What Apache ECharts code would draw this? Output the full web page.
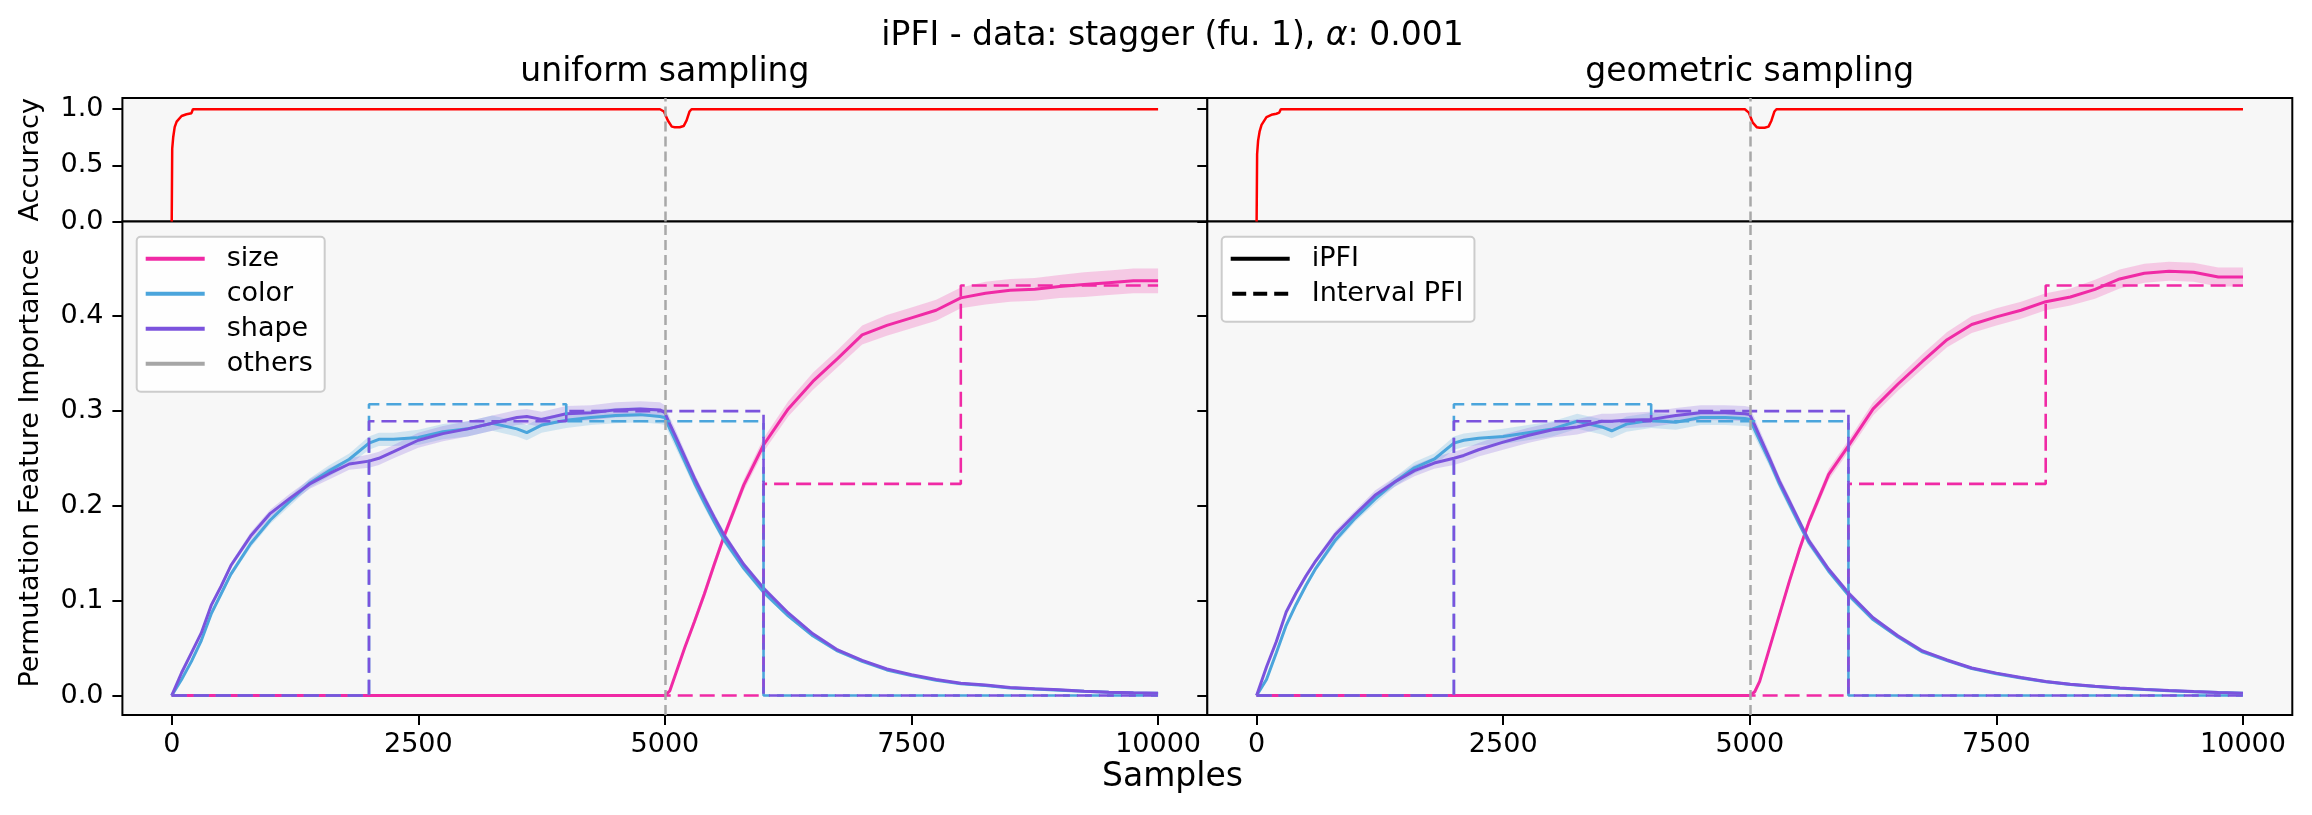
<!DOCTYPE html>
<html>
<head>
<meta charset="utf-8">
<script src="https://cdn.jsdelivr.net/npm/echarts@6/dist/echarts.min.js"></script>
<style>
  html, body { margin: 0; padding: 0; background: #fff; }
  #chart { width: 2312px; height: 815px; }
</style>
</head>
<body>
<div id="chart"></div>
<script>
var FONT = 'DejaVu Sans';

// x positions of the iPFI curves (samples)
var pfiX = [0, 100, 200, 300, 400, 500, 600,
  800, 1000, 1200, 1400, 1600, 1800, 2000,
  2100, 2250, 2500, 2750, 3000, 3250, 3500, 3600, 3750, 4000,
  4250, 4500, 4750, 4950, 5000,
  5050, 5100, 5200, 5300, 5400, 5500, 5600, 5800, 6000,
  6250, 6500, 6750, 7000, 7250, 7500, 7750, 8000,
  8250, 8500, 8750, 9000, 9250, 9500, 9750, 10000];

// uniform sampling
var uniSize = [0, 0, 0, 0, 0, 0, 0,
  0, 0, 0, 0, 0, 0, 0,
  0, 0, 0, 0, 0, 0, 0, 0, 0, 0,
  0, 0, 0, 0, 0,
  0.005, 0.02, 0.05, 0.078, 0.107, 0.138, 0.168, 0.222, 0.264,
  0.302, 0.331, 0.355, 0.380, 0.390, 0.398, 0.406, 0.419,
  0.424, 0.427, 0.428, 0.431, 0.433, 0.435, 0.437, 0.437];
var uniColor = [0, 0.017, 0.036, 0.058, 0.086, 0.107, 0.128,
  0.160, 0.185, 0.205, 0.224, 0.237, 0.249, 0.266,
  0.270, 0.270, 0.272, 0.278, 0.281, 0.287, 0.281, 0.277, 0.285, 0.290,
  0.293, 0.295, 0.296, 0.294, 0.293,
  0.281, 0.270, 0.247, 0.224, 0.203, 0.183, 0.164, 0.134, 0.109,
  0.084, 0.063, 0.047, 0.036, 0.027, 0.021, 0.016, 0.0125,
  0.0105, 0.008, 0.0068, 0.0056, 0.0044, 0.0035, 0.0028, 0.0023];
var uniShape = [0, 0.024, 0.045, 0.066, 0.095, 0.115, 0.137,
  0.168, 0.192, 0.208, 0.223, 0.234, 0.244, 0.247,
  0.250, 0.257, 0.269, 0.276, 0.281, 0.287, 0.293, 0.294, 0.291, 0.297,
  0.298, 0.301, 0.302, 0.301, 0.298,
  0.286, 0.275, 0.252, 0.229, 0.208, 0.188, 0.169, 0.138, 0.113,
  0.087, 0.065, 0.048, 0.037, 0.028, 0.022, 0.017, 0.013,
  0.011, 0.0085, 0.0072, 0.006, 0.0046, 0.0036, 0.003, 0.0025];
var uniSizeStd = [0, 0, 0, 0, 0, 0, 0,
  0, 0, 0, 0, 0, 0, 0,
  0, 0, 0, 0, 0, 0, 0, 0, 0, 0,
  0, 0, 0, 0, 0,
  0.001, 0.002, 0.003, 0.004, 0.005, 0.005, 0.005, 0.006, 0.007,
  0.008, 0.009, 0.009, 0.010, 0.011, 0.011, 0.011, 0.011,
  0.012, 0.012, 0.012, 0.012, 0.013, 0.013, 0.013, 0.013];
var uniCPStd = [0, 0.001, 0.002, 0.002, 0.003, 0.003, 0.003,
  0.004, 0.004, 0.005, 0.005, 0.006, 0.006, 0.007,
  0.007, 0.007, 0.008, 0.008, 0.008, 0.008, 0.008, 0.008, 0.008, 0.008,
  0.008, 0.008, 0.008, 0.008, 0.008,
  0.007, 0.007, 0.006, 0.005, 0.005, 0.004, 0.004, 0.003, 0.003,
  0.002, 0.002, 0.002, 0.001, 0.001, 0.001, 0.001, 0.001,
  0.001, 0.001, 0.001, 0.001, 0.001, 0.001, 0.001, 0.001];

// geometric sampling
var geoSize = [0, 0, 0, 0, 0, 0, 0,
  0, 0, 0, 0, 0, 0, 0,
  0, 0, 0, 0, 0, 0, 0, 0, 0, 0,
  0, 0, 0, 0, 0,
  0.004, 0.015, 0.05, 0.085, 0.12, 0.153, 0.183, 0.233, 0.263,
  0.302, 0.328, 0.352, 0.375, 0.391, 0.399, 0.406, 0.415,
  0.420, 0.428, 0.439, 0.445, 0.447, 0.446, 0.441, 0.441];
var geoColor = [0, 0.017, 0.045, 0.074, 0.096, 0.116, 0.134,
  0.164, 0.187, 0.207, 0.225, 0.240, 0.249, 0.266,
  0.269, 0.271, 0.273, 0.277, 0.281, 0.289, 0.283, 0.279, 0.286, 0.290,
  0.288, 0.293, 0.293, 0.292, 0.291,
  0.280, 0.269, 0.247, 0.223, 0.202, 0.181, 0.161, 0.131, 0.106,
  0.080, 0.062, 0.046, 0.0368, 0.0285, 0.023, 0.0185, 0.0145,
  0.0117, 0.0095, 0.0078, 0.0063, 0.0051, 0.0041, 0.0032, 0.0024];
var geoShape = [0, 0.030, 0.057, 0.088, 0.108, 0.126, 0.142,
  0.170, 0.191, 0.211, 0.225, 0.237, 0.245, 0.250,
  0.253, 0.259, 0.267, 0.274, 0.280, 0.283, 0.289, 0.289, 0.290, 0.291,
  0.295, 0.298, 0.298, 0.297, 0.296,
  0.285, 0.273, 0.250, 0.226, 0.205, 0.184, 0.163, 0.133, 0.108,
  0.082, 0.063, 0.047, 0.0375, 0.029, 0.0236, 0.019, 0.0148,
  0.012, 0.0098, 0.008, 0.0065, 0.0053, 0.0042, 0.0033, 0.0025];
var geoSizeStd = [0, 0, 0, 0, 0, 0, 0,
  0, 0, 0, 0, 0, 0, 0,
  0, 0, 0, 0, 0, 0, 0, 0, 0, 0,
  0, 0, 0, 0, 0,
  0.001, 0.002, 0.003, 0.004, 0.004, 0.005, 0.005, 0.006, 0.006,
  0.007, 0.007, 0.008, 0.008, 0.009, 0.009, 0.009, 0.009,
  0.009, 0.010, 0.010, 0.010, 0.010, 0.010, 0.010, 0.010];
var geoCPStd = uniCPStd;

// interval PFI (value holds until the next boundary)
var intervalX = [0, 2000, 4000, 6000, 8000, 10000];
var sizeInterval = [0, 0, 0, 0.223, 0.432, 0.432];
var colorInterval = [0, 0.307, 0.289, 0, 0, 0];
var shapeInterval = [0, 0.289, 0.2997, 0, 0, 0];

// accuracy
var accX = [0, 5, 15, 30, 50, 100, 150, 200, 215, 230, 245,
  4950, 4990, 5030, 5070, 5100, 5150, 5190, 5220, 5250, 5270, 10000];
var uniAcc = [0, 0.65, 0.75, 0.84, 0.89, 0.94, 0.955, 0.965, 1.0, 1.0, 1.0,
  1.0, 0.98, 0.90, 0.845, 0.84, 0.84, 0.85, 0.90, 0.98, 1.0, 1.0];
var geoAcc = [0, 0.6, 0.72, 0.80, 0.86, 0.93, 0.95, 0.96, 0.965, 0.97, 1.0,
  1.0, 0.97, 0.88, 0.84, 0.835, 0.835, 0.845, 0.90, 0.98, 1.0, 1.0];

var drifts = [5000];
var xTicks = [0, 2500, 5000, 7500, 10000];
var accTicks = [0, 0.5, 1.0];
var pfiTicks = [0, 0.1, 0.2, 0.3, 0.4];

var C = { size: '#f02aa5', color: '#4ba5dc', shape: '#7b53dd', others: '#a6a6a6' };

function zip(xs, ys) { return xs.map(function (x, i) { return [x, ys[i]]; }); }

var chart = echarts.init(document.getElementById('chart'), null, { renderer: 'canvas' });

var L = 122.4, W = 1085, R0 = 1207.3;
var grids = [
  { left: L, top: 98, width: W, height: 123.5 },
  { left: R0, top: 98, width: W, height: 123.5 },
  { left: L, top: 221.5, width: W, height: 493.5 },
  { left: R0, top: 221.5, width: W, height: 493.5 }
].map(function (g) {
  return Object.assign(g, { show: true, borderColor: '#000', borderWidth: 2, backgroundColor: '#f7f7f7' });
});

var tickLine = { color: '#000', width: 2 };
var labelStyle = { color: '#000', fontSize: 27, fontFamily: FONT };

var xAxes = [0, 1, 2, 3].map(function (i) {
  var show = i >= 2;
  return {
    type: 'value', gridIndex: i, min: -500, max: 10500, position: 'bottom',
    axisLine: { show: false, onZero: false }, splitLine: { show: false },
    axisTick: { show: show, customValues: xTicks, length: 10, lineStyle: tickLine },
    axisLabel: Object.assign({
      show: show, customValues: xTicks, margin: 16,
      formatter: function (v) { return String(v); }
    }, labelStyle)
  };
});

var yAxes = [0, 1, 2, 3].map(function (i) {
  var isAcc = i < 2, isLeft = i % 2 === 0;
  var ticks = isAcc ? accTicks : pfiTicks;
  return {
    type: 'value', gridIndex: i, position: 'left',
    min: isAcc ? 0 : -0.0205, max: isAcc ? 1.1 : 0.4995,
    axisLine: { show: false, onZero: false }, splitLine: { show: false },
    axisTick: { show: true, customValues: ticks, length: 10, lineStyle: tickLine },
    axisLabel: Object.assign({
      show: isLeft, customValues: ticks, margin: 19,
      formatter: function (v) { return v.toFixed(1); }
    }, labelStyle),
    name: isLeft ? (isAcc ? 'Accuracy' : 'Permutation Feature Importance') : '',
    nameLocation: 'middle', nameGap: 78,
    nameTextStyle: { color: '#000', fontSize: 27, fontFamily: FONT }
  };
});

var driftLine = {
  silent: true, symbol: ['none', 'none'], label: { show: false },
  lineStyle: { color: '#a8a8a8', type: [10, 5], width: 2.5 },
  data: drifts.map(function (d) { return { xAxis: d }; })
};

var series = [];

// mean +/- std band as one polygon through the axis scales
function bandSeries(a, mean, std, color, withDrift) {
  return {
    type: 'custom', xAxisIndex: a, yAxisIndex: a, silent: true,
    data: [[pfiX[0], mean[0]]],
    renderItem: function (params, api) {
      var upper = [], lower = [];
      pfiX.forEach(function (x, i) {
        upper.push(api.coord([x, mean[i] + std[i]]));
        lower.unshift(api.coord([x, mean[i] - std[i]]));
      });
      return {
        type: 'polygon', shape: { points: upper.concat(lower) },
        style: { fill: color, opacity: 0.22 }
      };
    },
    markLine: withDrift ? driftLine : undefined
  };
}

function addPanel(k, acc, feats) {
  series.push({
    type: 'line', xAxisIndex: k, yAxisIndex: k, data: zip(accX, acc),
    symbol: 'none', lineStyle: { color: '#ff0000', width: 2.5 }, markLine: driftLine
  });
  var a = k + 2;
  feats.forEach(function (f, j) {
    series.push(bandSeries(a, f.mean, f.std, f.color, j === 0));
  });
  // iPFI
  feats.forEach(function (f) {
    series.push({
      name: f.name, type: 'line', xAxisIndex: a, yAxisIndex: a, data: zip(pfiX, f.mean),
      symbol: 'none', color: f.color, lineStyle: { color: f.color, width: 3 }
    });
  });
  // interval PFI
  feats.forEach(function (f) {
    series.push({
      type: 'line', xAxisIndex: a, yAxisIndex: a, data: zip(intervalX, f.interval),
      step: 'end', symbol: 'none', color: f.color,
      lineStyle: { color: f.color, width: 2.6, type: [15, 7] }
    });
  });
}

addPanel(0, uniAcc, [
  { name: 'size', mean: uniSize, std: uniSizeStd, interval: sizeInterval, color: C.size },
  { name: 'color', mean: uniColor, std: uniCPStd, interval: colorInterval, color: C.color },
  { name: 'shape', mean: uniShape, std: uniCPStd, interval: shapeInterval, color: C.shape }
]);
addPanel(1, geoAcc, [
  { name: 'size', mean: geoSize, std: geoSizeStd, interval: sizeInterval, color: C.size },
  { name: 'color', mean: geoColor, std: geoCPStd, interval: colorInterval, color: C.color },
  { name: 'shape', mean: geoShape, std: geoCPStd, interval: shapeInterval, color: C.shape }
]);

// legend-only entries
series.push({ name: 'others', type: 'line', xAxisIndex: 2, yAxisIndex: 2, data: [], color: C.others, symbol: 'none' });
series.push({ name: 'iPFI', type: 'line', xAxisIndex: 3, yAxisIndex: 3, data: [], color: '#000', symbol: 'none' });
series.push({ name: 'Interval PFI', type: 'line', xAxisIndex: 3, yAxisIndex: 3, data: [], color: '#000', symbol: 'none' });

var legendBase = {
  orient: 'vertical', itemWidth: 59, itemHeight: 4, itemGap: 7, selectedMode: false,
  backgroundColor: 'rgba(255,255,255,0.8)', borderColor: '#cccccc', borderWidth: 2, borderRadius: 4,
  itemStyle: { borderWidth: 0 },
  textStyle: { color: '#000', fontSize: 27, fontFamily: FONT, lineHeight: 28, padding: [0, 0, 0, 17] }
};

var dashIcon = 'path://M0,0h14v4h-14z M21,0h14v4h-14z M42,0h14v4h-14z';

var option = {
  animation: false,
  backgroundColor: '#ffffff',
  grid: grids,
  xAxis: xAxes,
  yAxis: yAxes,
  legend: [
    Object.assign({}, legendBase, {
      left: 136.7, top: 236.7, padding: [8, 12, 14, 9],
      data: [{ name: 'size', icon: 'rect' }, { name: 'color', icon: 'rect' },
             { name: 'shape', icon: 'rect' }, { name: 'others', icon: 'rect' }]
    }),
    Object.assign({}, legendBase, {
      left: 1221.7, top: 236.7, padding: [8, 11, 14, 9],
      data: [{ name: 'iPFI', icon: 'rect' }, { name: 'Interval PFI', icon: dashIcon }]
    })
  ],
  graphic: [
    { type: 'text', x: 1172.5, y: 36, style: {
        text: 'iPFI - data: stagger (fu. 1), {i|α}: 0.001', fill: '#000',
        font: '33px "DejaVu Sans"', align: 'center', verticalAlign: 'middle',
        rich: { i: { fontStyle: 'italic', fontSize: 33, fontFamily: FONT, fill: '#000' } } } },
    { type: 'text', x: 664.9, y: 72, style: { text: 'uniform sampling', fill: '#000',
        font: '33px "DejaVu Sans"', align: 'center', verticalAlign: 'middle' } },
    { type: 'text', x: 1749.8, y: 72, style: { text: 'geometric sampling', fill: '#000',
        font: '33px "DejaVu Sans"', align: 'center', verticalAlign: 'middle' } },
    { type: 'text', x: 1172.5, y: 777, style: { text: 'Samples', fill: '#000',
        font: '33px "DejaVu Sans"', align: 'center', verticalAlign: 'middle' } }
  ],
  series: series
};

chart.setOption(option);
</script>
</body>
</html>
